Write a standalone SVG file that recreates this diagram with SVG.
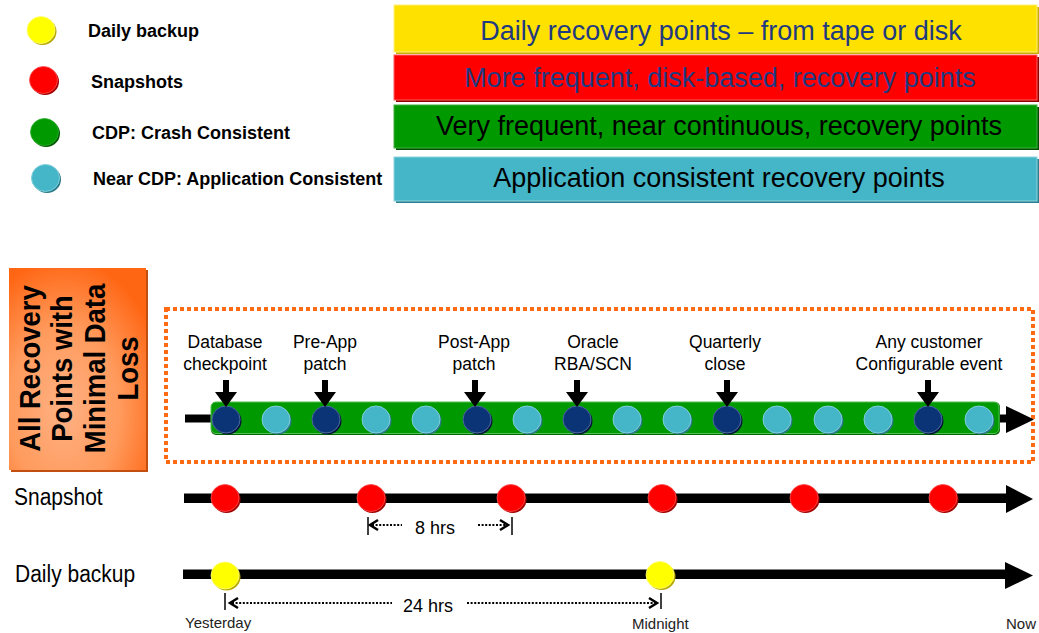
<svg xmlns="http://www.w3.org/2000/svg" width="1039" height="633" viewBox="0 0 1039 633">
<style>
.lg{font-family:"Liberation Sans",Arial,sans-serif;font-weight:bold;font-size:18px;fill:#000}
.bt{font-family:"Liberation Sans",Arial,sans-serif;font-size:27px;text-anchor:middle}
.ev{font-family:"Liberation Sans",Arial,sans-serif;font-size:17.5px;text-anchor:middle;fill:#000}
.rl{font-family:"Liberation Sans",Arial,sans-serif;font-size:21px;fill:#000}
.sm{font-family:"Liberation Sans",Arial,sans-serif;font-size:15px;fill:#222}
.hr{font-family:"Liberation Sans",Arial,sans-serif;font-size:18px;fill:#000;text-anchor:middle}
.side{font-family:"Liberation Sans",Arial,sans-serif;font-weight:bold;font-size:27.5px;text-anchor:middle;fill:#000}
.dot{stroke:#000;stroke-width:2;stroke-dasharray:2 1.6;fill:none}
.chev{stroke:#000;stroke-width:2.5;fill:none}
.tick{stroke:#000;stroke-width:1.5}
</style>
<defs>
<radialGradient id="og" cx="0.4" cy="0.7" r="0.75">
<stop offset="0" stop-color="#ffb184"/>
<stop offset="0.55" stop-color="#ff9a5c"/>
<stop offset="1" stop-color="#ff6614"/>
</radialGradient>
<g id="navy"><ellipse cx="1.5" cy="1.5" rx="14" ry="13.5" fill="#04163a"/><ellipse rx="14" ry="13.5" fill="#0b3477" stroke="#4d6c9e" stroke-width="1"/></g>
<g id="teal"><ellipse cx="1.5" cy="1.5" rx="14" ry="13.5" fill="#2a7888"/><ellipse rx="14" ry="13.5" fill="#45b6c8" stroke="#7fcfdb" stroke-width="1"/></g>
<g id="red"><ellipse cx="1.5" cy="1.5" rx="14" ry="13.5" fill="#a00000"/><ellipse rx="14" ry="13.5" fill="#ff0000" stroke="#ff5050" stroke-width="0.8"/></g>
<g id="yel"><ellipse cx="1.5" cy="1.5" rx="14" ry="13.5" fill="#b8a800"/><ellipse rx="14" ry="13.5" fill="#ffff00" stroke="#ffff80" stroke-width="0.8"/></g>
<g id="grn"><ellipse cx="1.5" cy="1.5" rx="14" ry="13.5" fill="#005a00"/><ellipse rx="14" ry="13.5" fill="#009900" stroke="#30b030" stroke-width="0.8"/></g>
<g id="down"><rect x="-3" y="0" width="6" height="13" fill="#000"/><polygon points="-11,12 11,12 0,27" fill="#000"/></g>
</defs>
<rect width="1039" height="633" fill="#fff"/>

<g id="legend">
<use href="#yel" x="41" y="30"/>
<use href="#red" x="43.5" y="80"/>
<use href="#grn" x="44.5" y="132"/>
<use href="#teal" x="45.5" y="178"/>
<text class="lg" x="88" y="37">Daily backup</text>
<text class="lg" x="91" y="88">Snapshots</text>
<text class="lg" x="92" y="139">CDP: Crash Consistent</text>
<text class="lg" x="93" y="185">Near CDP: Application Consistent</text>
</g>

<g id="bar-daily">
<rect x="396" y="7" width="643" height="47" fill="#c9b000"/>
<rect x="394" y="5" width="643" height="47" fill="#ffe100" stroke="#fff07a" stroke-width="1"/>
<text class="bt" x="721" y="40" fill="#1f3a80">Daily recovery points – from tape or disk</text>
</g>
<g id="bar-snap">
<rect x="396" y="57" width="643" height="45" fill="#900000"/>
<rect x="394" y="55" width="643" height="45" fill="#ff0000" stroke="#ff6060" stroke-width="1"/>
<text class="bt" x="720" y="87" fill="#1f3a80">More frequent, disk-based, recovery points</text>
</g>
<g id="bar-cdp">
<rect x="396" y="107" width="643" height="43" fill="#004f00"/>
<rect x="394" y="105" width="643" height="43" fill="#009900" stroke="#40b040" stroke-width="1"/>
<text class="bt" x="719" y="135" fill="#000">Very frequent, near continuous, recovery points</text>
</g>
<g id="bar-near">
<rect x="396" y="159" width="643" height="44" fill="#2a8090"/>
<rect x="394" y="157" width="643" height="44" fill="#45b6c8" stroke="#8fd4de" stroke-width="1"/>
<text class="bt" x="719" y="187" fill="#000">Application consistent recovery points</text>
</g>

<g id="side-box">
<rect x="11" y="270" width="137" height="202" fill="#c24e10"/>
<rect x="9" y="268" width="137" height="202" fill="url(#og)"/>
<text class="side" transform="translate(40,368.5) rotate(-90) scale(1,1.1)">All Recovery</text>
<text class="side" transform="translate(72,368.5) rotate(-90) scale(1,1.1)">Points with</text>
<text class="side" transform="translate(105,368.5) rotate(-90) scale(1,1.1)">Minimal Data</text>
<text class="side" transform="translate(138,368.5) rotate(-90) scale(1,1.1)">Loss</text>
</g>

<g id="cdp-frame">
<rect x="166" y="309" width="867" height="153" fill="none" stroke="#ff6a14" stroke-width="4" stroke-dasharray="4 3"/>
</g>

<g id="connectors">
<rect x="185" y="414.5" width="825" height="8" fill="#000"/>
<polygon points="1006,406 1034,419.5 1006,433" fill="#000"/>
<rect x="184" y="493.5" width="824" height="9.5" fill="#000"/>
<polygon points="1006,485 1033,499 1006,513" fill="#000"/>
<rect x="183" y="569.5" width="825" height="9.5" fill="#000"/>
<polygon points="1005,562 1033,575.5 1005,589" fill="#000"/>
</g>

<g id="cdp-timeline">
<rect x="211" y="402" width="789" height="33" rx="5" fill="#006400"/>
<rect x="211" y="402" width="788" height="31.5" rx="5" fill="#009900" stroke="#55c055" stroke-width="1"/>
<use href="#navy" x="226" y="419.5"/>
<use href="#teal" x="276" y="419.5"/>
<use href="#navy" x="326" y="419.5"/>
<use href="#teal" x="376" y="419.5"/>
<use href="#teal" x="426" y="419.5"/>
<use href="#navy" x="477" y="419.5"/>
<use href="#teal" x="527" y="419.5"/>
<use href="#navy" x="577" y="419.5"/>
<use href="#teal" x="627" y="419.5"/>
<use href="#teal" x="677" y="419.5"/>
<use href="#navy" x="727" y="419.5"/>
<use href="#teal" x="777" y="419.5"/>
<use href="#teal" x="828" y="419.5"/>
<use href="#teal" x="878" y="419.5"/>
<use href="#navy" x="928" y="419.5"/>
<use href="#teal" x="979" y="419.5"/>
</g>

<g id="event-db">
<text class="ev" x="225" y="348">Database</text>
<text class="ev" x="225" y="370">checkpoint</text>
<use href="#down" x="226" y="380"/>
</g>
<g id="event-preapp">
<text class="ev" x="325" y="348">Pre-App</text>
<text class="ev" x="325" y="370">patch</text>
<use href="#down" x="325" y="380"/>
</g>
<g id="event-postapp">
<text class="ev" x="474" y="348">Post-App</text>
<text class="ev" x="474" y="370">patch</text>
<use href="#down" x="475" y="380"/>
</g>
<g id="event-oracle">
<text class="ev" x="593" y="348">Oracle</text>
<text class="ev" x="593" y="370">RBA/SCN</text>
<use href="#down" x="577" y="380"/>
</g>
<g id="event-quarterly">
<text class="ev" x="725" y="348">Quarterly</text>
<text class="ev" x="725" y="370">close</text>
<use href="#down" x="727" y="380"/>
</g>
<g id="event-custom">
<text class="ev" x="929" y="348">Any customer</text>
<text class="ev" x="929" y="370">Configurable event</text>
<use href="#down" x="928" y="380"/>
</g>

<g id="snapshot-timeline">
<text class="rl" transform="translate(14,505) scale(1,1.1)">Snapshot</text>
<use href="#red" x="225" y="498"/>
<use href="#red" x="371" y="498"/>
<use href="#red" x="511" y="498"/>
<use href="#red" x="662" y="498"/>
<use href="#red" x="804" y="498"/>
<use href="#red" x="943" y="498"/>
</g>

<g id="interval-8h">
<line class="tick" x1="368" y1="517" x2="368" y2="535"/>
<polyline class="chev" points="378,520 370,525 378,530"/>
<line class="dot" x1="372" y1="525" x2="402" y2="525"/>
<text class="hr" x="435" y="534">8 hrs</text>
<line class="dot" x1="478" y1="525" x2="506" y2="525"/>
<polyline class="chev" points="500,520 508,525 500,530"/>
<line class="tick" x1="512" y1="517" x2="512" y2="535"/>
</g>

<g id="daily-timeline">
<text class="rl" transform="translate(15,582) scale(1,1.1)">Daily backup</text>
<use href="#yel" x="225" y="575.5"/>
<use href="#yel" x="660" y="575"/>
</g>

<g id="interval-24h">
<line class="tick" x1="225" y1="593" x2="225" y2="610"/>
<polyline class="chev" points="238,598 230,603 238,608"/>
<line class="dot" x1="232" y1="603" x2="392" y2="603"/>
<text class="hr" x="428" y="612">24 hrs</text>
<line class="dot" x1="467" y1="603" x2="655" y2="603"/>
<polyline class="chev" points="649,598 657,603 649,608"/>
<line class="tick" x1="661" y1="593" x2="661" y2="609"/>
</g>

<g id="time-labels">
<text class="sm" x="185" y="628">Yesterday</text>
<text class="sm" x="632" y="629">Midnight</text>
<text class="sm" x="1006" y="629">Now</text>
</g>
</svg>
